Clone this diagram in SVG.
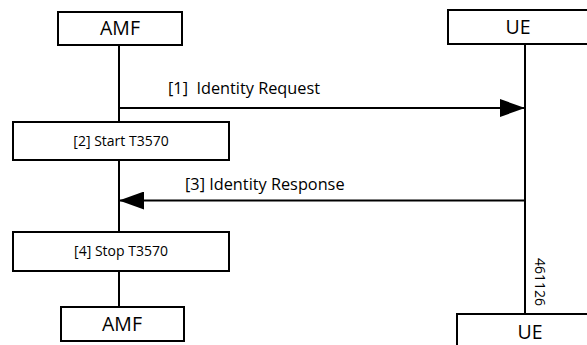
<svg xmlns="http://www.w3.org/2000/svg" width="587" height="345" viewBox="0 0 587 345">
<defs>
<style>
.box{fill:#fff;stroke:#000;stroke-width:2}
.ln{stroke:#000;stroke-width:2;fill:none}
.t{font-family:"Open Sans","Liberation Sans",sans-serif;fill:#000}
.big{font-size:19.5px}
.msg{font-size:16.3px}
.sm{font-size:14px}
</style>
<marker id="ah" markerWidth="26" markerHeight="18" refX="25" refY="9" orient="auto" markerUnits="userSpaceOnUse">
<path d="M0,0 L25,9 L0,18 Z" fill="#000"/>
</marker>
</defs>
<rect width="587" height="345" fill="#fff"/>
<g id="connectors">
<line class="ln" x1="119" y1="45" x2="119" y2="122"/>
<line class="ln" x1="119" y1="160" x2="119" y2="232"/>
<line class="ln" x1="119" y1="271" x2="119" y2="307"/>
<line class="ln" x1="525" y1="44" x2="525" y2="314"/>
<line class="ln" x1="119" y1="108" x2="525" y2="108" marker-end="url(#ah)"/>
<line class="ln" x1="525" y1="200.5" x2="119" y2="200.5" marker-end="url(#ah)"/>
<text class="t msg" x="168" y="94" xml:space="preserve" style="white-space:pre">[1]  Identity Request</text>
<text class="t msg" x="185" y="190">[3] Identity Response</text>
</g>
<g id="amf-top">
<rect class="box" x="58" y="12" width="124" height="33"/>
<text class="t big" x="120" y="35" text-anchor="middle">AMF</text>
</g>
<g id="ue-top">
<rect class="box" x="448" y="10" width="145" height="34"/>
<text class="t big" x="518" y="34" text-anchor="middle">UE</text>
</g>
<g id="start-timer">
<rect class="box" x="13" y="122" width="216" height="38"/>
<text class="t sm" x="121" y="146" text-anchor="middle">[2] Start T3570</text>
</g>
<g id="stop-timer">
<rect class="box" x="13" y="232" width="216" height="39"/>
<text class="t sm" x="121" y="256" text-anchor="middle">[4] Stop T3570</text>
</g>
<g id="amf-bottom">
<rect class="box" x="61" y="307" width="123" height="34"/>
<text class="t big" x="122" y="331" text-anchor="middle">AMF</text>
</g>
<g id="ue-bottom">
<rect class="box" x="457" y="314" width="140" height="40"/>
<text class="t big" x="530" y="339" text-anchor="middle">UE</text>
</g>
<text class="t sm" transform="translate(535,258) rotate(90)">461126</text>
</svg>
